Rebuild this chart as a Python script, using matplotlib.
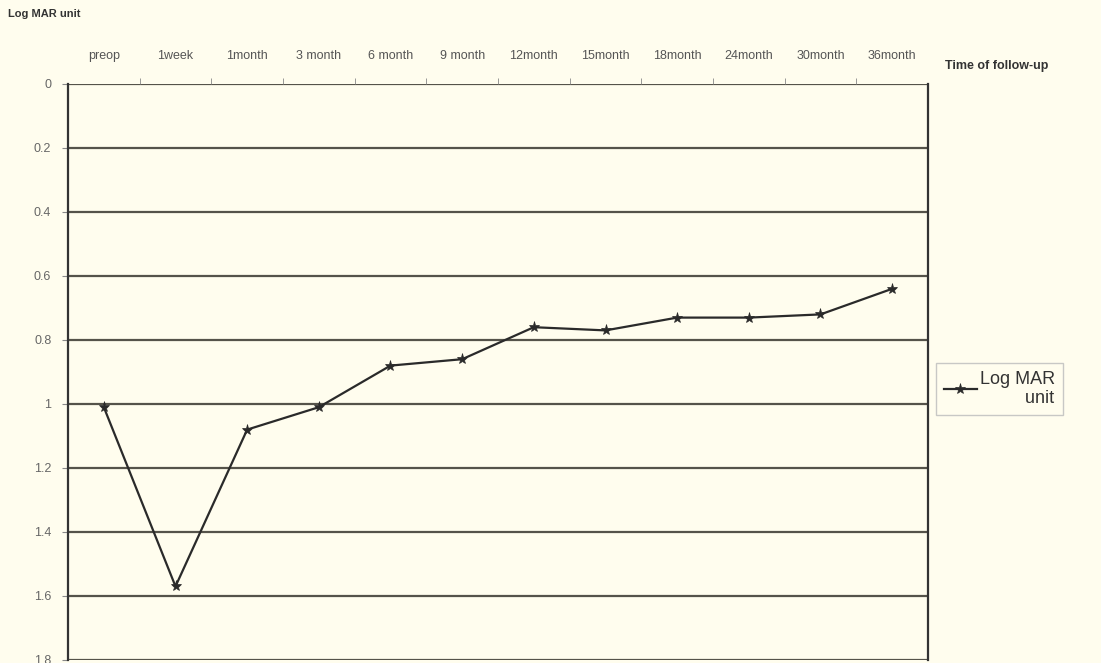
import matplotlib.pyplot as plt
import numpy as np

# data
follow_up = ["preop", "1week", "1month", "3 month", "6 month", "9 month",
             "12month", "15month", "18month", "24month", "30month", "36month"]
logmar = [1.01, 1.57, 1.08, 1.01, 0.88, 0.86, 0.76, 0.77, 0.73, 0.73, 0.72, 0.64]
y_ticks = [0, 0.2, 0.4, 0.6, 0.8, 1, 1.2, 1.4, 1.6, 1.8]

plt.rcParams["font.family"] = ["Liberation Sans", "DejaVu Sans"]

bg = "#fffdee"
W, H = 1101, 663

fig = plt.figure(figsize=(W / 100, H / 100), dpi=100, facecolor=bg)
ax = fig.add_axes([68 / W, 1 - 660 / H, (928 - 68) / W, (660 - 84) / H])
ax.set_facecolor(bg)

x = np.arange(len(follow_up))
ax.plot(x, logmar, color="#2a2a2a", lw=1.6, marker="*", ms=8,
        markeredgewidth=0.5, label="Log MAR\n         unit")

ax.set_xlim(-0.5, len(follow_up) - 0.5)
ax.set_ylim(1.8, 0)
ax.set_yticks(y_ticks)
ax.set_yticklabels([f"{v:g}" for v in y_ticks])
for v in y_ticks:
    ax.axhline(v, color="#55534a", lw=1.6, zorder=0)

ax.xaxis.tick_top()
ax.set_xticks(x)
ax.set_xticklabels(follow_up)
ax.tick_params(axis="x", length=0, pad=16, labelsize=9, colors="#555555")
ax.set_xticks(x[:-1] + 0.5, minor=True)
ax.tick_params(axis="x", which="minor", length=4, color="#888888", top=True)
ax.tick_params(axis="y", length=4, color="#888888", labelsize=9,
               labelcolor="#666666", pad=8)

for side in ["left", "right"]:
    ax.spines[side].set_color("#333333")
    ax.spines[side].set_linewidth(1.6)
ax.spines["top"].set_visible(False)
ax.spines["bottom"].set_visible(False)

fig.text(8 / W, 1 - 14 / H, "Log MAR unit", fontsize=8, fontweight="bold",
         color="#333333", va="center")
fig.text(945 / W, 1 - 66 / H, "Time of follow-up", fontsize=9,
         fontweight="bold", color="#333333", va="center")

leg = ax.legend(loc="center left", bbox_to_anchor=(936 / W, 1 - 389 / H),
                bbox_transform=fig.transFigure, fontsize=13, frameon=True,
                fancybox=False, handlelength=1.8, handletextpad=0.2,
                borderpad=0.45, borderaxespad=0)
leg.get_frame().set_edgecolor("#bbbbbb")
leg.get_frame().set_facecolor(bg)
for t in leg.get_texts():
    t.set_color("#333333")
    t.set_multialignment("left")

fig.savefig("out.png", dpi=100, facecolor=bg)
